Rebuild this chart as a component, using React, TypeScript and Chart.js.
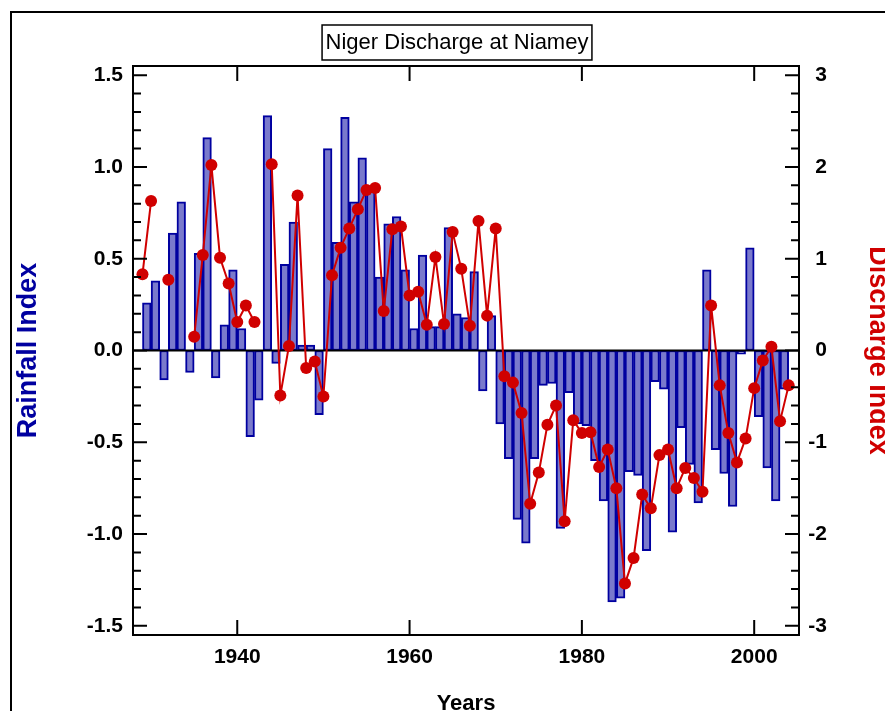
import React, { useEffect, useRef } from "react";
import { Chart, registerables } from "chart.js";

Chart.register(...registerables);

// ---------- data ----------
const rainYears = [
  1929, 1930, 1931, 1932, 1933, 1934, 1935, 1936, 1937, 1938, 1939,
  1940, 1941, 1942, 1943, 1944, 1945, 1946, 1947, 1948, 1949,
  1950, 1951, 1952, 1953, 1954, 1955, 1956, 1957, 1958, 1959,
  1960, 1961, 1962, 1963, 1964, 1965, 1966, 1967, 1968, 1969,
  1970, 1971, 1972, 1973, 1974, 1975, 1976, 1977, 1978, 1979,
  1980, 1981, 1982, 1983, 1984, 1985, 1986, 1987, 1988, 1989,
  1990, 1991, 1992, 1993, 1994, 1995, 1996, 1997, 1998, 1999,
  2000, 2001, 2002, 2003,
];
const rainfall = [
  0.26, 0.38, -0.16, 0.64, 0.81, -0.12, 0.53, 1.16, -0.15, 0.14, 0.44,
  0.12, -0.47, -0.27, 1.28, -0.07, 0.47, 0.7, 0.03, 0.03, -0.35,
  1.1, 0.59, 1.27, 0.81, 1.05, 0.87, 0.4, 0.69, 0.73, 0.44,
  0.12, 0.52, 0.13, 0.13, 0.67, 0.2, 0.18, 0.43, -0.22, 0.19,
  -0.4, -0.59, -0.92, -1.05, -0.59, -0.19, -0.18, -0.97, -0.23, -0.4,
  -0.41, -0.6, -0.82, -1.37, -1.35, -0.66, -0.68, -1.09, -0.17, -0.21,
  -0.99, -0.42, -0.62, -0.83, 0.44, -0.54, -0.67, -0.85, -0.02, 0.56,
  -0.36, -0.64, -0.82, -0.21,
];
const dischargeYears = [
  1929, 1930, 1931, 1932, 1933, 1934, 1935, 1936, 1937, 1938, 1939,
  1940, 1941, 1942, 1943, 1944, 1945, 1946, 1947, 1948, 1949,
  1950, 1951, 1952, 1953, 1954, 1955, 1956, 1957, 1958, 1959,
  1960, 1961, 1962, 1963, 1964, 1965, 1966, 1967, 1968, 1969,
  1970, 1971, 1972, 1973, 1974, 1975, 1976, 1977, 1978, 1979,
  1980, 1981, 1982, 1983, 1984, 1985, 1986, 1987, 1988, 1989,
  1990, 1991, 1992, 1993, 1994, 1995, 1996, 1997, 1998, 1999,
  2000, 2001, 2002, 2003, 2004,
];
const discharge: (number | null)[] = [
  0.83, 1.63, null, 0.77, null, null, 0.15, 1.04, 2.02, 1.01, 0.73,
  0.31, 0.49, 0.31, null, 2.03, -0.49, 0.05, 1.69, -0.19, -0.12,
  -0.5, 0.82, 1.12, 1.33, 1.54, 1.75, 1.77, 0.43, 1.32, 1.35,
  0.6, 0.64, 0.28, 1.02, 0.29, 1.29, 0.89, 0.27, 1.41, 0.38,
  1.33, -0.28, -0.35, -0.68, -1.67, -1.33, -0.81, -0.6, -1.86, -0.76,
  -0.9, -0.89, -1.27, -1.08, -1.5, -2.54, -2.26, -1.57, -1.72, -1.14,
  -1.08, -1.5, -1.28, -1.39, -1.54, 0.49, -0.38, -0.9, -1.22, -0.96,
  -0.41, -0.11, 0.04, -0.77, -0.38,
];
const leftTicks = [-1.5, -1.0, -0.5, 0, 0.5, 1.0, 1.5];
const rightTicks = [-3, -2, -1, 0, 1, 2, 3];
const yearTicks = [1940, 1960, 1980, 2000];
const chartTitle = "Niger Discharge at Niamey";

// ---------- style ----------
const FONT = "'Liberation Sans', Arial, Helvetica, sans-serif";
const BAR_FILL = "rgb(122,122,204)";
const BAR_EDGE = "rgb(0,0,160)";
const RED = "rgb(208,0,0)";
const NAVY = "rgb(0,0,160)";

export default function App() {
  const ref = useRef<HTMLCanvasElement>(null);

  useEffect(() => {
    const canvas = ref.current;
    if (!canvas) return;
    Chart.defaults.font.family = FONT;

    const decor = {
      id: "decor",
      afterDatasetDraw(chart: any, args: any) {
        if (args.index !== 0) return;
        const { ctx, chartArea } = chart;
        const y0 = chart.scales.y.getPixelForValue(0);
        ctx.save();
        ctx.strokeStyle = "#000";
        ctx.lineWidth = 2;
        ctx.beginPath();
        ctx.moveTo(chartArea.left, y0);
        ctx.lineTo(chartArea.right, y0);
        ctx.stroke();
        ctx.restore();
      },
      afterDraw(chart: any) {
        const { ctx, chartArea } = chart;
        const { left, right, top, bottom } = chartArea;
        const ys = chart.scales.y;
        const y2 = chart.scales.y2;
        const xs = chart.scales.x;
        ctx.save();
        ctx.strokeStyle = "#000";
        ctx.lineWidth = 2;
        ctx.strokeRect(left, top, right - left, bottom - top);
        ctx.beginPath();
        // left ticks: major 0.5, minor 0.1
        for (let i = -15; i <= 15; i++) {
          const p = ys.getPixelForValue(i / 10);
          const len = i % 5 === 0 ? 14 : 8;
          ctx.moveTo(left, p);
          ctx.lineTo(left + len, p);
        }
        // right ticks: major 1, minor 0.2
        for (let i = -15; i <= 15; i++) {
          const p = y2.getPixelForValue(i / 5);
          const len = i % 5 === 0 ? 14 : 8;
          ctx.moveTo(right, p);
          ctx.lineTo(right - len, p);
        }
        // x ticks top and bottom
        yearTicks.forEach((yr) => {
          const p = xs.getPixelForValue(yr);
          ctx.moveTo(p, bottom);
          ctx.lineTo(p, bottom - 15);
          ctx.moveTo(p, top);
          ctx.lineTo(p, top + 15);
        });
        ctx.stroke();

        // boxed title
        ctx.font = `22px ${FONT}`;
        ctx.fillStyle = "#000";
        ctx.textAlign = "center";
        ctx.textBaseline = "middle";
        const w = ctx.measureText(chartTitle).width;
        const cx = 457;
        ctx.fillText(chartTitle, cx, 43.3);
        ctx.lineWidth = 1.5;
        ctx.strokeRect(cx - w / 2 - 3.5, 25, w + 7, 35);
        ctx.restore();
      },
    };

    const tickFont = { family: FONT, size: 21, weight: "bold" as const, lineHeight: 1.2 };

    const chart = new Chart(canvas, {
      type: "bar",
      data: {
        datasets: [
          {
            type: "bar",
            label: "Rainfall Index",
            data: rainYears.map((yr, i) => ({ x: yr + 0.5, y: rainfall[i] })),
            xAxisID: "x",
            yAxisID: "y",
            backgroundColor: BAR_FILL,
            borderColor: BAR_EDGE,
            borderWidth: 2,
            borderSkipped: false,
            barPercentage: 1,
            categoryPercentage: 1,
            order: 2,
          } as any,
          {
            type: "line",
            label: "Discharge Index",
            data: dischargeYears.map((yr, i) => ({ x: yr, y: discharge[i] })),
            xAxisID: "x",
            yAxisID: "y2",
            borderColor: RED,
            backgroundColor: RED,
            borderWidth: 2,
            pointRadius: 6,
            pointBackgroundColor: RED,
            pointBorderColor: RED,
            pointBorderWidth: 0,
            spanGaps: false,
            tension: 0,
            order: 1,
          } as any,
        ],
      },
      options: {
        responsive: false,
        animation: false,
        layout: { padding: { left: 0, right: 58, top: 66, bottom: 0 } },
        plugins: {
          legend: { display: false },
          tooltip: { enabled: false },
          title: { display: false },
        },
        scales: {
          x: {
            type: "linear",
            position: "bottom",
            min: 1927.9,
            max: 2005.2,
            offset: false,
            grid: { display: false, drawTicks: false },
            border: { display: false },
            ticks: {
              font: tickFont,
              color: "#000",
              padding: 10,
              maxRotation: 0,
              autoSkip: false,
              callback: (v: any) => String(v),
            },
            afterBuildTicks: (s: any) => {
              s.ticks = yearTicks.map((v) => ({ value: v }));
            },
            afterFit: (s: any) => {
              s.height = 105;
            },
            title: {
              display: true,
              text: "Years",
              color: "#000",
              font: { family: FONT, size: 22, weight: "bold", lineHeight: 1 },
              padding: { top: 0, bottom: 25.3 },
            },
          },
          y: {
            type: "linear",
            position: "left",
            min: -1.55,
            max: 1.55,
            grid: { display: false, drawTicks: false },
            border: { display: false },
            ticks: {
              font: tickFont,
              color: "#000",
              padding: 10,
              autoSkip: false,
              callback: (v: any) => Number(v).toFixed(1),
            },
            afterBuildTicks: (s: any) => {
              s.ticks = leftTicks.map((v) => ({ value: v }));
            },
            afterFit: (s: any) => {
              s.width = 133;
            },
            title: {
              display: true,
              text: "Rainfall Index",
              color: NAVY,
              font: { family: FONT, size: 27, weight: "bold", lineHeight: 1 },
              padding: { top: 15.5, bottom: 0 },
            },
          },
          y2: {
            type: "linear",
            position: "right",
            min: -3.1,
            max: 3.1,
            grid: { display: false, drawTicks: false },
            border: { display: false },
            ticks: {
              font: tickFont,
              color: "#000",
              padding: 10,
              autoSkip: false,
              crossAlign: "far",
              callback: (v: any) => String(v),
            },
            afterBuildTicks: (s: any) => {
              s.ticks = rightTicks.map((v) => ({ value: v }));
            },
            afterFit: (s: any) => {
              s.width = 28;
            },
            title: {
              display: true,
              text: "Discharge Index",
              color: RED,
              font: { family: FONT, size: 27, weight: "bold", lineHeight: 1 },
              padding: { top: -63.5, bottom: 0 },
            },
          },
        },
      } as any,
      plugins: [decor],
    });

    return () => chart.destroy();
  }, []);

  return (
    <div
      style={{
        position: "fixed",
        left: 0,
        top: 0,
        width: 885,
        height: 711,
        overflow: "hidden",
        background: "#fff",
      }}
    >
      <div
        style={{
          position: "absolute",
          left: 10,
          top: 11,
          width: 1000,
          height: 1000,
          border: "2px solid #000",
        }}
      />
      <canvas
        ref={ref}
        width={885}
        height={740}
        style={{ position: "absolute", left: 0, top: 0, width: 885, height: 740 }}
      />
    </div>
  );
}
